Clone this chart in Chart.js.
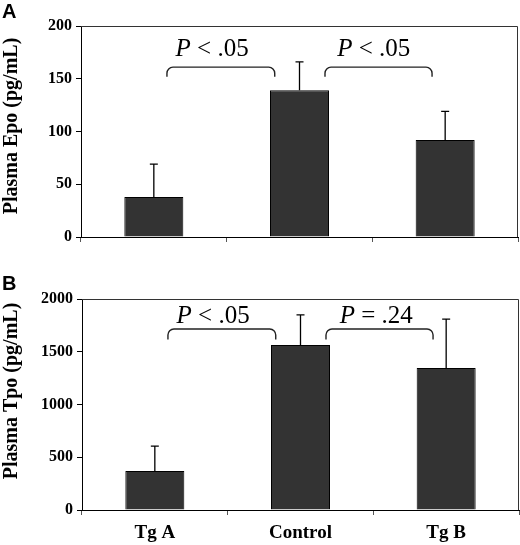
<!DOCTYPE html>
<html>
<head>
<meta charset="utf-8">
<script src="https://cdn.jsdelivr.net/npm/chart.js"></script>
<style>
  body { margin: 0; background: #fff; }
  .panel { position: absolute; left: 0; width: 520px; }
  #wrapA { top: 0; height: 262px; }
  #wrapB { top: 262px; height: 283px; }
</style>
</head>
<body>
<div class="panel" id="wrapA"><canvas id="chartA" width="520" height="262"></canvas></div>
<div class="panel" id="wrapB"><canvas id="chartB" width="520" height="283"></canvas></div>
<script>
// datos
const groups = ['Tg A', 'Control', 'Tg B'];
const epoMean = [38, 139, 92];
const epoErr = [31, 27, 27];
const tpoMean = [370, 1565, 1345];
const tpoErr = [235, 285, 465];
const epoTicks = [0, 50, 100, 150, 200];
const tpoTicks = [0, 500, 1000, 1500, 2000];

const serif = '"Liberation Serif", "Times New Roman", serif';

// barras de error (solo hacia arriba)
const errorBars = {
  id: 'errorBars',
  afterDatasetsDraw(chart, args, o) {
    const meta = chart.getDatasetMeta(0);
    const ys = chart.scales.y, ctx = chart.ctx;
    ctx.save();
    ctx.strokeStyle = '#000';
    ctx.lineWidth = 1.3;
    meta.data.forEach((bar, i) => {
      const top = ys.getPixelForValue(o.values[i] + o.errors[i]);
      ctx.beginPath();
      ctx.moveTo(bar.x, bar.y);
      ctx.lineTo(bar.x, top);
      ctx.moveTo(bar.x - 4, top);
      ctx.lineTo(bar.x + 4, top);
      ctx.stroke();
    });
    ctx.restore();
  }
};

// llaves con valor P
const brackets = {
  id: 'brackets',
  afterDraw(chart, args, o) {
    const xs = chart.scales.x, ys = chart.scales.y, ctx = chart.ctx;
    ctx.save();
    ctx.strokeStyle = '#222';
    ctx.lineWidth = 1.4;
    o.items.forEach(b => {
      const x1 = xs.getPixelForValue(b.from), x2 = xs.getPixelForValue(b.to);
      const yt = ys.getPixelForValue(b.top), ye = ys.getPixelForValue(b.end);
      const r = 6;
      ctx.beginPath();
      ctx.moveTo(x1, ye);
      ctx.arcTo(x1, yt, x1 + r, yt, r);
      ctx.arcTo(x2, yt, x2, yt + r, r);
      ctx.lineTo(x2, ye);
      ctx.stroke();
      // texto: P en cursiva + resto
      const lx = xs.getPixelForValue(b.textAt), ly = ys.getPixelForValue(b.textY);
      ctx.fillStyle = '#000';
      ctx.textBaseline = 'alphabetic';
      ctx.font = 'italic 25px ' + serif;
      const w1 = ctx.measureText('P').width;
      ctx.font = '25px ' + serif;
      const w2 = ctx.measureText(b.rest).width;
      const x0 = lx - (w1 + w2) / 2;
      ctx.font = 'italic 25px ' + serif;
      ctx.fillText('P', x0, ly);
      ctx.font = '25px ' + serif;
      ctx.fillText(b.rest, x0 + w1, ly);
    });
    ctx.restore();
  }
};

// marco, titulo del eje y letra del panel
const decor = {
  id: 'decor',
  afterDraw(chart, args, o) {
    const a = chart.chartArea, ctx = chart.ctx;
    ctx.save();
    ctx.strokeStyle = '#333';
    ctx.lineWidth = 1;
    ctx.beginPath();
    ctx.moveTo(a.left, a.top + 0.5);
    ctx.lineTo(a.right - 0.5, a.top + 0.5);
    ctx.lineTo(a.right - 0.5, a.bottom);
    ctx.stroke();
    ctx.fillStyle = '#000';
    ctx.font = 'bold 20px "Liberation Sans", Arial, sans-serif';
    ctx.textBaseline = 'alphabetic';
    ctx.textAlign = 'left';
    ctx.fillText(o.letter, 2, o.letterY);
    ctx.translate(o.titleX, o.titleY);
    ctx.rotate(-Math.PI / 2);
    ctx.textAlign = 'center';
    ctx.textBaseline = 'middle';
    ctx.font = 'bold ' + o.titleSize + 'px ' + serif;
    ctx.fillText(o.title, 0, 0);
    ctx.restore();
  }
};

function makeChart(id, values, errors, ticks, cfg) {
  const max = ticks[ticks.length - 1];
  return new Chart(document.getElementById(id), {
    type: 'bar',
    data: {
      labels: groups,
      datasets: [{
        data: values,
        backgroundColor: '#333333',
        borderColor: '#000',
        borderWidth: 1,
        barPercentage: 0.405,
        categoryPercentage: 1
      }]
    },
    options: {
      responsive: false,
      animation: false,
      layout: { padding: { top: cfg.top, right: cfg.right, left: 0, bottom: 0 } },
      plugins: {
        legend: { display: false },
        tooltip: { enabled: false },
        errorBars: { values: values, errors: errors },
        brackets: { items: cfg.brackets },
        decor: cfg.decor
      },
      scales: {
        x: {
          afterFit(s) { s.height = cfg.xHeight; },
          border: { color: '#000', width: 1 },
          grid: { drawOnChartArea: false, drawTicks: true, tickLength: 5, color: '#555', offset: true },
          ticks: {
            display: cfg.showX,
            padding: 7,
            color: '#000',
            font: { family: serif, size: 19, weight: 'bold' }
          }
        },
        y: {
          min: 0,
          max: max,
          afterFit(s) { s.width = cfg.yWidth; },
          afterBuildTicks(s) { s.ticks = ticks.map(v => ({ value: v })); },
          border: { color: '#000', width: 1 },
          grid: { drawOnChartArea: false, drawTicks: true, tickLength: 5, color: '#000' },
          ticks: {
            padding: 4,
            color: '#000',
            callback: v => String(v),
            font: { family: serif, size: 16, weight: 'bold' }
          }
        }
      }
    },
    plugins: [errorBars, brackets, decor]
  });
}

makeChart('chartA', epoMean, epoErr, epoTicks, {
  top: 26, right: 2, yWidth: 81, xHeight: 25, showX: false,
  brackets: [
    { from: 0.09, to: 0.83, top: 161, end: 152, textAt: 0.40, textY: 172, rest: ' < .05' },
    { from: 1.175, to: 1.91, top: 161, end: 152, textAt: 1.51, textY: 172, rest: ' < .05' }
  ],
  decor: { letter: 'A', letterY: 18, title: 'Plasma Epo (pg/mL)', titleSize: 20, titleX: 12, titleY: 126 }
});

makeChart('chartB', tpoMean, tpoErr, tpoTicks, {
  top: 37, right: 1, yWidth: 82, xHeight: 35, showX: true,
  brackets: [
    { from: 0.09, to: 0.83, top: 1715, end: 1617, textAt: 0.40, textY: 1769, rest: ' < .05' },
    { from: 1.175, to: 1.91, top: 1715, end: 1617, textAt: 1.52, textY: 1769, rest: ' = .24' }
  ],
  decor: { letter: 'B', letterY: 28, title: 'Plasma Tpo (pg/mL)', titleSize: 20, titleX: 12, titleY: 129 }
});
</script>
</body>
</html>
